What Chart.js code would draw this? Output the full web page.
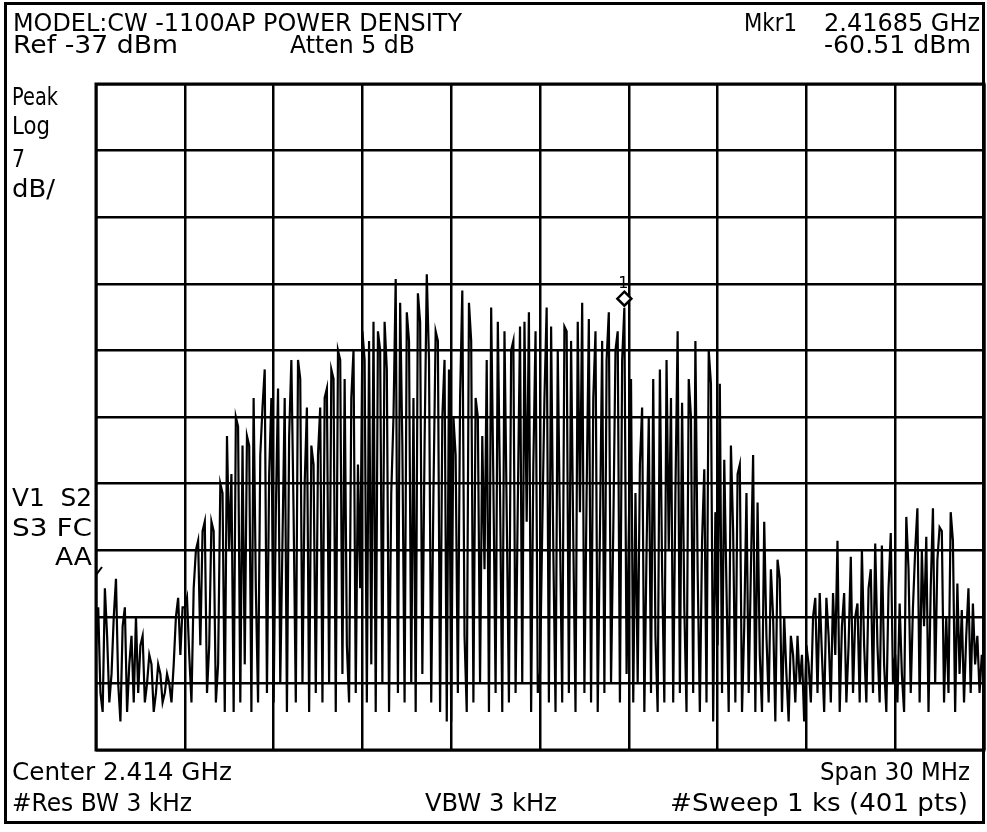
<!doctype html>
<html>

<head>
    <title>CW-1100AP Power Density</title>
    <script src="https://cdn.jsdelivr.net/npm/chart.js@4.4.0/dist/chart.umd.min.js"></script>
    <style>
    body {
        margin: 0;
        background: #fff;
    }
    canvas {
        display: block;
    }
    </style>
</head>

<body>
    <canvas id="canvas" width="987" height="832"></canvas>
    <script>
    // instrument settings
    var centerMHz = 2414;
    var spanMHz = 30;
    var refLevel = -37;     // dBm, top line
    var dbPerDiv = 7;
    var numDiv = 10;
    var markerMHz = 2416.85;
    var markerDbm = -60.51;

    // sweep trace, 401 points, dBm
    var traceDbm = [
        -96, -92, -101, -103, -90, -95, -102, -99, -93, -89, -100, -104, -94, -92, -103, -98, -95, -102, -93, -101,
        -96, -95, -102, -100, -97, -98, -103, -101, -98, -99, -102, -101, -99, -100, -102, -98, -93, -91, -97, -92,
        -92, -91, -97, -102, -90, -86, -85, -96, -84, -83, -101, -96, -83, -84, -102, -98, -79, -80, -103, -74,
        -86, -78, -103, -72, -73, -102, -75, -98, -74, -75, -103, -70, -90, -102, -76, -71, -67, -101, -78, -70,
        -102, -82, -69, -100, -85, -70, -103, -74, -66, -82, -102, -66, -68, -100, -79, -71, -103, -75, -77, -101,
        -76, -71, -102, -70, -69, -100, -67, -68, -103, -65, -66, -99, -68, -96, -102, -70, -65, -101, -77, -90,
        -63, -66, -102, -64, -98, -62, -103, -63, -65, -100, -62, -67, -103, -80, -72, -57.5, -101, -60, -75, -102,
        -61, -64, -100, -70, -103, -59, -62, -99, -75, -57, -66, -102, -80, -63, -64, -103, -72, -66, -104, -67,
        -104, -72, -76, -101, -70, -58.7, -95, -103, -60, -64, -102, -70, -72, -100, -74, -88, -66, -103, -60.5, -79,
        -101, -62, -80, -103, -63, -82, -102, -65, -64, -101, -81, -62.5, -100, -62, -83, -61, -103, -77, -63, -101,
        -99, -84, -70, -60.5, -102, -62.5, -86, -103, -65, -84, -102, -62.5, -63, -101, -64, -85, -103, -62, -82, -60,
        -101, -80, -61.7, -102, -70, -63, -103, -84, -64, -101, -66, -61, -100, -84, -65, -63, -102, -66, -60.51, -99,
        -84, -68, -102, -80, -100, -77, -71, -103, -86, -72, -101, -68, -95, -103, -67, -88, -102, -66, -86, -70,
        -102, -80, -63, -101, -70.5, -92, -103, -68, -72, -101, -64, -88, -103, -85, -77.5, -102, -65, -68.5, -104, -82,
        -96, -68.5, -101, -76.5, -90, -103, -75, -84, -102, -78, -77, -103, -94, -80, -101, -88, -76, -103, -81, -97,
        -103, -83, -95, -102, -88, -93, -104, -87, -89, -103, -93, -99, -104, -95, -97, -102, -95, -100, -97, -104,
        -96, -98, -102, -93, -91, -101, -90.5, -97, -103, -91, -95, -102, -90.5, -97, -85, -103, -94, -90.5, -102, -96,
        -86.7, -101, -93, -91.6, -102, -86, -96, -102, -90, -88, -101, -85.3, -96, -102, -85.5, -98, -103, -90, -84.2, -100,
        -97, -102, -91.6, -99, -103, -82.5, -88, -101, -92, -86, -81.6, -102, -86, -94, -84.6, -103, -90, -81.6, -100, -87,
        -83.6, -84, -102, -93, -101, -82, -85, -103, -89.5, -99, -92.3, -102, -95, -90, -101, -91.6, -98, -95, -101, -97, -99
    ];

    // screen annotations: [text, left x, right x, baseline y]
    var headerTexts = [
        ['MODEL:CW -1100AP POWER DENSITY', 13, 462, 31],
        ['Mkr1', 744, 797, 31],
        ['2.41685 GHz', 824, 980, 31],
        ['Ref -37 dBm', 13, 178, 53],
        ['Atten 5 dB', 290, 415, 53],
        ['-60.51 dBm', 824, 971, 53]
    ];
    var sideTexts = [
        ['Peak', 12, 58, 105],
        ['Log', 12, 50, 134],
        ['7', 12, 25, 167],
        ['dB/', 12, 55, 197],
        ['V1  S2', 12, 92, 506],
        ['S3 FC', 12, 92, 536],
        ['AA', 55, 92, 565]
    ];
    var footerTexts = [
        ['Center 2.414 GHz', 12, 232, 780],
        ['Span 30 MHz', 820, 970, 780],
        ['#Res BW 3 kHz', 12, 192, 811],
        ['VBW 3 kHz', 425, 557, 811],
        ['#Sweep 1 ks (401 pts)', 670, 968, 811]
    ];

    var startMHz = centerMHz - spanMHz / 2;
    var stopMHz = centerMHz + spanMHz / 2;
    var bottomLevel = refLevel - dbPerDiv * numDiv;

    var points = traceDbm.map(function(v, i) {
        return {x: startMHz + i * spanMHz / (traceDbm.length - 1), y: v};
    });

    function drawFit(ctx, t, size) {
        ctx.font = size + 'px "DejaVu Sans"';
        var w = ctx.measureText(t[0]).width;
        var sx = (t[2] - t[1]) / w;
        ctx.save();
        ctx.translate(t[1], t[3]);
        ctx.scale(sx, 1);
        ctx.fillText(t[0], 0, 0);
        ctx.restore();
    }

    var screenPlugin = {
        id: 'screen',
        beforeDraw: function(chart) {
            var ctx = chart.ctx;
            ctx.save();
            ctx.fillStyle = '#fff';
            ctx.fillRect(0, 0, chart.width, chart.height);
            ctx.restore();
        },
        afterDraw: function(chart) {
            var ctx = chart.ctx;
            var a = chart.chartArea;
            var xs = chart.scales.x, ys = chart.scales.y;
            ctx.save();
            ctx.fillStyle = '#000';
            ctx.textBaseline = 'alphabetic';
            headerTexts.forEach(function(t) { drawFit(ctx, t, 24); });
            sideTexts.forEach(function(t) { drawFit(ctx, t, 25); });
            footerTexts.forEach(function(t) { drawFit(ctx, t, 25); });

            // outer frame
            ctx.strokeStyle = '#000';
            ctx.lineWidth = 3;
            ctx.strokeRect(5.5, 3.5, 978, 819);
            // graticule frame
            ctx.strokeRect(a.left, a.top, a.right - a.left, a.bottom - a.top);

            // display line indicator next to AA
            ctx.lineWidth = 2;
            ctx.beginPath();
            ctx.moveTo(a.left, 575);
            ctx.lineTo(a.left + 6, 567);
            ctx.stroke();

            // marker 1
            var mx = xs.getPixelForValue(markerMHz);
            var my = ys.getPixelForValue(markerDbm) - 9;
            ctx.lineWidth = 2.5;
            ctx.fillStyle = '#fff';
            ctx.beginPath();
            ctx.moveTo(mx, my - 7);
            ctx.lineTo(mx + 7, my);
            ctx.lineTo(mx, my + 7);
            ctx.lineTo(mx - 7, my);
            ctx.closePath();
            ctx.fill();
            ctx.stroke();
            ctx.fillStyle = '#000';
            ctx.font = '16px "DejaVu Sans"';
            ctx.textAlign = 'center';
            ctx.fillText('1', mx - 1, my - 11);
            ctx.restore();
        }
    };

    var config = {
        type: 'line',
        data: {
            datasets: [{
                label: 'Trace',
                data: points,
                borderColor: '#000',
                borderWidth: 2.2,
                pointRadius: 0,
                tension: 0,
                fill: false
            }]
        },
        options: {
            responsive: false,
            animation: false,
            devicePixelRatio: 1,
            layout: {
                padding: {left: 96, top: 84, right: 3, bottom: 82}
            },
            plugins: {
                legend: {display: false},
                tooltip: {enabled: false}
            },
            scales: {
                x: {
                    type: 'linear',
                    min: startMHz,
                    max: stopMHz,
                    ticks: {display: false, stepSize: spanMHz / numDiv},
                    grid: {color: '#000', lineWidth: 2.5, drawTicks: false},
                    border: {display: false}
                },
                y: {
                    type: 'linear',
                    min: bottomLevel,
                    max: refLevel,
                    ticks: {display: false, stepSize: dbPerDiv},
                    grid: {color: '#000', lineWidth: 2.5, drawTicks: false},
                    border: {display: false}
                }
            }
        },
        plugins: [screenPlugin]
    };

    window.onload = function() {
        window.myChart = new Chart(document.getElementById('canvas'), config);
    };
    </script>
</body>

</html>
